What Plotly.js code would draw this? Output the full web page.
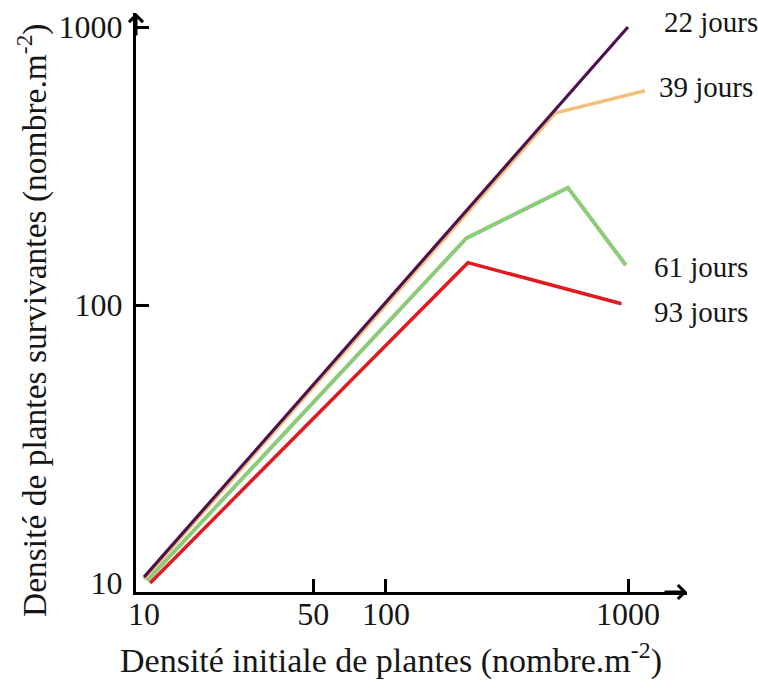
<!DOCTYPE html>
<html>
<head>
<meta charset="utf-8">
<script src="https://cdn.plot.ly/plotly-3.0.1.min.js"></script>
<style>
  html, body { margin: 0; padding: 0; background: #ffffff; }
  #chart { width: 758px; height: 693px; }
</style>
</head>
<body>
<div id="chart"></div>
<script>
// ---- data ----
const seriesNames = ["22 jours", "39 jours", "61 jours", "93 jours"];

const x22 = [10, 1000];
const y22 = [10.5, 1000];

const x39 = [10, 500, 1175];
const y39 = [10.3, 490, 590];

const x61 = [10.3, 215, 565, 980];
const y61 = [10.2, 174, 264, 139];

const x93 = [10.6, 218, 940];
const y93 = [10, 142, 101];

const xTickVals = [10, 50, 100, 1000];
const xTickText = ["10", "50", "100", "1000"];
const xTickMarks = [50, 100, 1000];
const yTickVals = [10, 100, 1000];
const yTickText = ["10", "100", "1000"];
const yTickMarks = [100, 1000];

const xTitle = "Densité initiale de plantes (nombre.m<sup>-2</sup>)";
const yTitle = "Densité de plantes survivantes (nombre.m<sup>-2</sup>)";

// ---- styling ----
const serif = "Liberation Serif, 'Times New Roman', 'DejaVu Serif', serif";
const ink = "#161616";
const colors = {
  "22 jours": "#4d1150",
  "39 jours": "#f1c07c",
  "61 jours": "#8dca79",
  "93 jours": "#e2191f"
};

const xRange = [0.967, 3.2438];
const yRange = [0.9676, 3.0504];

function line(name, x, y, w) {
  return {
    type: "scatter", mode: "lines", name: name, x: x, y: y,
    line: { color: colors[name], width: w },
    showlegend: false, hoverinfo: "x+y+name"
  };
}

const traces = [
  line("93 jours", x93, y93, 3.5),
  line("61 jours", x61, y61, 4),
  line("39 jours", x39, y39, 3.5),
  line("22 jours", x22, y22, 3.2),
  // carrier for the overlay axes that draw the tick marks
  { type: "scatter", mode: "lines", x: x22, y: y22, xaxis: "x2", yaxis: "y2",
    line: { width: 0, color: "rgba(0,0,0,0)" }, showlegend: false, hoverinfo: "skip" }
];

const labelFont = { family: serif, size: 29, color: ink };

const layout = {
  width: 758, height: 693,
  margin: { l: 136, r: 71, t: 13, b: 101, pad: 0 },
  paper_bgcolor: "#ffffff", plot_bgcolor: "#ffffff",
  showlegend: false,
  font: { family: serif, color: ink },
  xaxis: {
    type: "log", range: xRange,
    tickvals: xTickVals, ticktext: xTickText, ticks: "",
    showline: true, linecolor: "#000", linewidth: 3,
    showgrid: false, zeroline: false,
    tickfont: { family: serif, size: 32, color: ink },
    ticklabelstandoff: -8
  },
  yaxis: {
    type: "log", range: yRange,
    tickvals: yTickVals, ticktext: yTickText, ticks: "",
    showline: true, linecolor: "#000", linewidth: 3,
    showgrid: false, zeroline: false,
    tickfont: { family: serif, size: 32, color: ink },
    ticklabelstandoff: 4
  },
  xaxis2: {
    type: "log", range: xRange, overlaying: "x", anchor: "y2", side: "bottom",
    tickvals: xTickMarks, ticks: "inside", ticklen: 13, tickwidth: 3, tickcolor: "#000",
    showticklabels: false, showline: false, showgrid: false, zeroline: false
  },
  yaxis2: {
    type: "log", range: yRange, overlaying: "y", anchor: "x2", side: "left",
    tickvals: yTickMarks, ticks: "inside", ticklen: 13, tickwidth: 3, tickcolor: "#000",
    showticklabels: false, showline: false, showgrid: false, zeroline: false
  },
  annotations: [
    // axis titles (placed where the reference has them)
    { xref: "paper", yref: "paper", x: 0.4628, y: -0.114, xanchor: "center", yanchor: "middle",
      text: xTitle, showarrow: false, font: { family: serif, size: 34, color: ink } },
    { xref: "paper", yref: "paper", x: -0.1869, y: 0.4698, xanchor: "center", yanchor: "middle",
      textangle: -90, text: yTitle, showarrow: false, font: { family: serif, size: 33.5, color: ink } },
    // axis arrowheads
    { xref: "paper", yref: "paper", x: 0, y: 1, ax: 0, ay: 24, showarrow: true,
      arrowhead: 4, arrowsize: 0.9, arrowwidth: 3, arrowcolor: "#000", text: "", standoff: 0 },
    { xref: "paper", yref: "paper", x: 1, y: 0, ax: -24, ay: 0, showarrow: true,
      arrowhead: 4, arrowsize: 0.9, arrowwidth: 3, arrowcolor: "#000", text: "", standoff: 0 },
    // series labels
    { xref: "paper", yref: "paper", x: 0.9546, y: 0.9845, xanchor: "left", yanchor: "middle",
      text: seriesNames[0], showarrow: false, font: labelFont },
    { xref: "paper", yref: "paper", x: 0.9456, y: 0.8722, xanchor: "left", yanchor: "middle",
      text: seriesNames[1], showarrow: false, font: labelFont },
    { xref: "paper", yref: "paper", x: 0.9365, y: 0.5613, xanchor: "left", yanchor: "middle",
      text: seriesNames[2], showarrow: false, font: labelFont },
    { xref: "paper", yref: "paper", x: 0.9365, y: 0.4836, xanchor: "left", yanchor: "middle",
      text: seriesNames[3], showarrow: false, font: labelFont }
  ]
};

Plotly.newPlot("chart", traces, layout, { displayModeBar: false, staticPlot: true });
</script>
</body>
</html>
